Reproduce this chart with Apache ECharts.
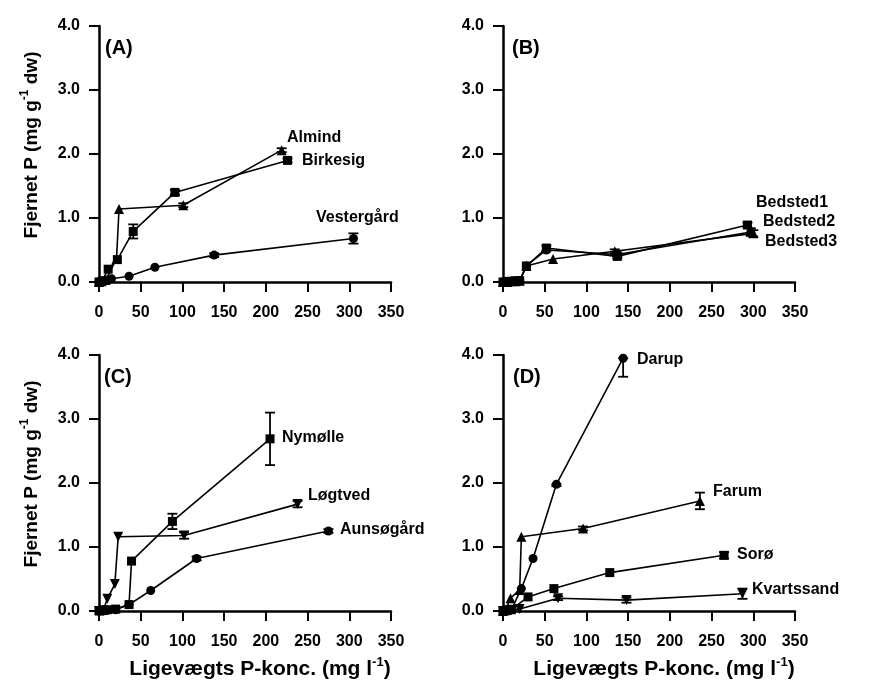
<!DOCTYPE html>
<html><head><meta charset="utf-8">
<script src="https://cdn.jsdelivr.net/npm/echarts@6/dist/echarts.min.js"></script>
<style>html,body{margin:0;padding:0;background:#fff}#c{width:880px;height:689px}</style>
</head><body><div id="c"></div>
<script>
// ---------- DATA ----------
const xTicks = [0, 50, 100, 150, 200, 250, 300, 350];
const yTicks = ['0.0', '1.0', '2.0', '3.0', '4.0'];

// Panel A
const almindX = [0, 3, 8, 21, 24, 101, 219];
const almindY = [0, 0.01, 0.03, 0.36, 1.14, 1.20, 2.06];
const almindErr = [0, 0, 0, 0, 0, 0.03, 0.03];
const birkesigX = [0, 4, 11, 22, 41, 91, 226];
const birkesigY = [0, 0.02, 0.20, 0.35, 0.79, 1.40, 1.90];
const birkesigErr = [0, 0, 0, 0, 0.11, 0.04, 0.03];
const vestergaardX = [0, 5, 10, 15, 36, 67, 138, 305];
const vestergaardY = [0, 0.01, 0.03, 0.05, 0.09, 0.23, 0.42, 0.68];
const vestergaardErr = [0, 0, 0, 0, 0, 0, 0.03, 0.08];

// Panel B
const bedsted1X = [0, 5, 10, 15, 20, 28, 52, 137, 293];
const bedsted1Y = [0, 0.01, 0.01, 0.02, 0.02, 0.25, 0.53, 0.40, 0.89];
const bedsted1Err = [0, 0, 0, 0, 0, 0, 0.04, 0.03, 0.04];
const bedsted2X = [0, 5, 10, 15, 20, 28, 60, 134, 300];
const bedsted2Y = [0, 0, 0.01, 0.01, 0.02, 0.25, 0.36, 0.48, 0.76];
const bedsted2Err = [0, 0, 0, 0, 0, 0, 0, 0.03, 0.05];
const bedsted3X = [0, 5, 10, 15, 20, 28, 52, 137, 297];
const bedsted3Y = [0, 0, 0.01, 0.01, 0.02, 0.25, 0.50, 0.43, 0.78];
const bedsted3Err = [0, 0, 0, 0, 0, 0, 0, 0.03, 0.06];

// Panel C
const nymoelleX = [0, 5, 10, 20, 36, 39, 88, 205];
const nymoelleY = [0, 0.01, 0.02, 0.03, 0.10, 0.78, 1.40, 2.69];
const nymoelleErr = [0, 0, 0, 0, 0, 0, 0.12, 0.41];
const loegtvedX = [0, 5, 10, 19, 23, 102, 238];
const loegtvedY = [0, 0.01, 0.19, 0.42, 1.16, 1.18, 1.67];
const loegtvedErr = [0, 0, 0, 0, 0, 0.05, 0.05];
const aunsoegaardX = [0, 5, 10, 20, 36, 62, 117, 275];
const aunsoegaardY = [0, 0, 0.01, 0.02, 0.10, 0.32, 0.82, 1.25];
const aunsoegaardErr = [0, 0, 0, 0, 0, 0, 0.03, 0.03];

// Panel D
const darupX = [0, 5, 10, 22, 36, 64, 144];
const darupY = [0, 0.01, 0.02, 0.35, 0.82, 1.98, 3.95];
const darupErrLow = [0, 0, 0, 0, 0, 0.03, 0.29];
const farumX = [0, 3, 9, 20, 22, 96, 236];
const farumY = [0, 0.01, 0.20, 0.33, 1.16, 1.29, 1.72];
const farumErr = [0, 0, 0, 0, 0, 0.03, 0.13];
const soroeX = [0, 5, 10, 30, 61, 128, 265];
const soroeY = [0, 0.01, 0.02, 0.22, 0.35, 0.60, 0.87];
const soroeErr = [0, 0, 0, 0, 0, 0, 0.05];
const kvartssandX = [0, 5, 10, 20, 66, 148, 287];
const kvartssandY = [0, 0.01, 0.02, 0.03, 0.20, 0.17, 0.27];
const kvartssandErr = [0, 0, 0, 0, 0.03, 0.04, 0.08];

// ---------- CHART ----------
const FONT = '"Liberation Sans", Arial, Helvetica, sans-serif';
const chart = echarts.init(document.getElementById('c'), null, {renderer: 'canvas'});

const grids = [
  {left: 99, top: 26, width: 292, height: 256},
  {left: 503, top: 26, width: 292, height: 256},
  {left: 99, top: 355, width: 292, height: 256},
  {left: 503, top: 355, width: 292, height: 256}
];

function xAxisFor(i) {
  return {
    type: 'value', gridIndex: i, min: 0, max: 350, interval: 50,
    axisLine: {show: true, onZero: false, lineStyle: {color: '#000', width: 2.5}},
    axisTick: {show: true, length: 10, lineStyle: {color: '#000', width: 2}},
    axisLabel: {color: '#000', fontFamily: FONT, fontWeight: 'bold', fontSize: 16, margin: 23,
      formatter: v => String(xTicks[xTicks.indexOf(v)])},
    splitLine: {show: false}
  };
}
function yAxisFor(i) {
  return {
    type: 'value', gridIndex: i, min: 0, max: 4, interval: 1,
    axisLine: {show: true, onZero: false, lineStyle: {color: '#000', width: 2.5}},
    axisTick: {show: true, length: 10, lineStyle: {color: '#000', width: 2}},
    axisLabel: {color: '#000', fontFamily: FONT, fontWeight: 'bold', fontSize: 16, margin: 19,
      formatter: v => yTicks[Math.round(v)]},
    splitLine: {show: false}
  };
}

function zip(xs, ys) { return xs.map((x, i) => [x, ys[i]]); }

function lineSeries(name, idx, xs, ys, symbol, rotate, size) {
  return {
    name, type: 'line', xAxisIndex: idx, yAxisIndex: idx,
    data: zip(xs, ys), symbol, symbolSize: size || 9, symbolRotate: rotate || 0,
    showAllSymbol: true, animation: false, z: 3,
    lineStyle: {color: '#000', width: 1.6},
    itemStyle: {color: '#000', borderWidth: 0}
  };
}

function errSeries(idx, xs, ys, errLow, errHigh) {
  const data = [];
  xs.forEach((x, i) => {
    const lo = errLow ? errLow[i] : 0;
    const hi = errHigh ? errHigh[i] : 0;
    if (lo > 0 || hi > 0) data.push([x, ys[i] - lo, ys[i] + hi]);
  });
  return {
    type: 'custom', xAxisIndex: idx, yAxisIndex: idx, animation: false, z: 4,
    encode: {x: 0, y: [1, 2]},
    data,
    renderItem: function (params, api) {
      const x = api.value(0);
      const p1 = api.coord([x, api.value(1)]);
      const p2 = api.coord([x, api.value(2)]);
      const w = 5;
      const st = {stroke: '#000', lineWidth: 1.8};
      const children = [{type: 'line', shape: {x1: p1[0], y1: p1[1], x2: p2[0], y2: p2[1]}, style: st}];
      if (Math.abs(p1[1] - p2[1]) > 1) {
        children.push({type: 'line', shape: {x1: p1[0] - w, y1: p1[1], x2: p1[0] + w, y2: p1[1]}, style: st});
      }
      if (api.value(2) - api.value(1) > 0) {
        children.push({type: 'line', shape: {x1: p2[0] - w, y1: p2[1], x2: p2[0] + w, y2: p2[1]}, style: st});
      }
      return {type: 'group', children};
    }
  };
}

const TRI = 'triangle';
const series = [
  // A
  lineSeries('Vestergård', 0, vestergaardX, vestergaardY, 'circle', 0, 9),
  lineSeries('Birkesig', 0, birkesigX, birkesigY, 'rect', 0, 9),
  lineSeries('Almind', 0, almindX, almindY, TRI, 0, 10),
  errSeries(0, vestergaardX, vestergaardY, vestergaardErr, vestergaardErr),
  errSeries(0, birkesigX, birkesigY, birkesigErr, birkesigErr),
  errSeries(0, almindX, almindY, almindErr, almindErr),
  // B
  lineSeries('Bedsted3', 1, bedsted3X, bedsted3Y, 'circle', 0, 9),
  lineSeries('Bedsted2', 1, bedsted2X, bedsted2Y, TRI, 0, 10),
  lineSeries('Bedsted1', 1, bedsted1X, bedsted1Y, 'rect', 0, 9),
  errSeries(1, bedsted1X, bedsted1Y, bedsted1Err, bedsted1Err),
  errSeries(1, bedsted2X, bedsted2Y, bedsted2Err, bedsted2Err),
  errSeries(1, bedsted3X, bedsted3Y, bedsted3Err, bedsted3Err),
  // C
  lineSeries('Aunsøgård', 2, aunsoegaardX, aunsoegaardY, 'circle', 0, 9),
  lineSeries('Løgtved', 2, loegtvedX, loegtvedY, TRI, 180, 10),
  lineSeries('Nymølle', 2, nymoelleX, nymoelleY, 'rect', 0, 9),
  errSeries(2, nymoelleX, nymoelleY, nymoelleErr, nymoelleErr),
  errSeries(2, loegtvedX, loegtvedY, loegtvedErr, loegtvedErr),
  errSeries(2, aunsoegaardX, aunsoegaardY, aunsoegaardErr, aunsoegaardErr),
  // D
  lineSeries('Kvartssand', 3, kvartssandX, kvartssandY, TRI, 180, 10),
  lineSeries('Sorø', 3, soroeX, soroeY, 'rect', 0, 9),
  lineSeries('Farum', 3, farumX, farumY, TRI, 0, 10),
  lineSeries('Darup', 3, darupX, darupY, 'circle', 0, 9),
  errSeries(3, darupX, darupY, darupErrLow, null),
  errSeries(3, farumX, farumY, farumErr, farumErr),
  errSeries(3, soroeX, soroeY, soroeErr, soroeErr),
  errSeries(3, kvartssandX, kvartssandY, kvartssandErr, kvartssandErr)
];

function txt(text, x, y, size, align) {
  return {type: 'text', z: 10, style: {text, x, y, fill: '#000',
    font: 'bold ' + size + 'px ' + FONT, textAlign: align || 'left', textVerticalAlign: 'middle'}};
}
function yTitle(cx, cy) {
  return {type: 'text', z: 10, x: cx, y: cy, rotation: Math.PI / 2,
    style: {text: '{b|Fjernet P (mg g}{s|-1}{b| dw)}', x: 0, y: 0, fill: '#000',
      textAlign: 'center', textVerticalAlign: 'middle',
      rich: {b: {fontFamily: FONT, fontWeight: 'bold', fontSize: 19, lineHeight: 22, verticalAlign: 'bottom'},
             s: {fontFamily: FONT, fontWeight: 'bold', fontSize: 12, lineHeight: 22, verticalAlign: 'top'}}}};
}
function xTitle(cx, cy) {
  return {type: 'text', z: 10, x: cx, y: cy,
    style: {text: '{b|Ligevægts P-konc. (mg l}{s|-1}{b|)}', x: 0, y: 0, fill: '#000',
      textAlign: 'center', textVerticalAlign: 'middle',
      rich: {b: {fontFamily: FONT, fontWeight: 'bold', fontSize: 21, lineHeight: 24, verticalAlign: 'bottom'},
             s: {fontFamily: FONT, fontWeight: 'bold', fontSize: 13, lineHeight: 24, verticalAlign: 'top'}}}};
}

const graphic = [
  txt('(A)', 105, 48, 20), txt('(B)', 512, 48, 20), txt('(C)', 104, 377, 20), txt('(D)', 513, 377, 20),
  txt('Almind', 287, 138, 16), txt('Birkesig', 302, 161, 16), txt('Vestergård', 316, 218, 16),
  txt('Bedsted1', 756, 203, 16), txt('Bedsted2', 763, 222, 16), txt('Bedsted3', 765, 242, 16),
  txt('Nymølle', 282, 438, 16), txt('Løgtved', 308, 496, 16), txt('Aunsøgård', 340, 530, 16),
  txt('Darup', 637, 360, 16), txt('Farum', 713, 492, 16), txt('Sorø', 737, 555, 16), txt('Kvartssand', 752, 590, 16),
  yTitle(30, 145), yTitle(30, 474),
  xTitle(260, 668), xTitle(664, 668)
];

chart.setOption({
  backgroundColor: '#fff',
  animation: false,
  grid: grids,
  xAxis: [0, 1, 2, 3].map(xAxisFor),
  yAxis: [0, 1, 2, 3].map(yAxisFor),
  series,
  graphic
});
</script></body></html>
